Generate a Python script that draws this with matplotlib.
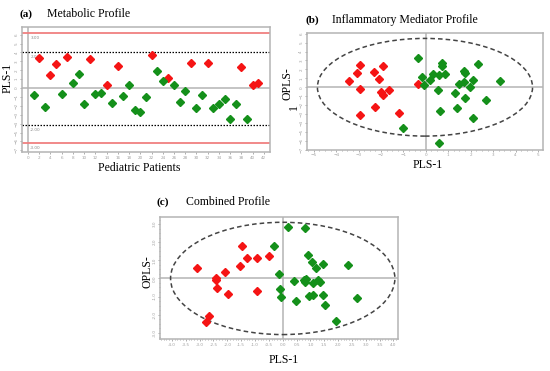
import matplotlib.pyplot as plt
from matplotlib.patches import Ellipse
from matplotlib.ticker import MultipleLocator, FormatStrFormatter

RED = '#f51414'
GREEN = '#14901a'
FRAME = '#b4b4b4'
TICKC = '#a0a0a0'
SERIF = ['Liberation Serif', 'DejaVu Serif']

# (a) Metabolic profile, PLS-1 score per pediatric patient
a_red_x = [2, 4, 5, 7, 11, 14, 16, 22, 25, 29, 32, 38, 40, 41]
a_red_y = [3.4, 1.5, 2.7, 3.5, 3.3, 0.34, 2.5, 3.67, 1.09, 2.77, 2.8, 2.32, 0.34, 0.56]
a_green_x = [1, 3, 6, 8, 9, 10, 12, 13, 15, 17, 18, 19, 20, 21, 23, 24, 26, 27, 28,
             30, 31, 33, 34, 35, 36, 37, 39]
a_green_y = [-0.79, -2.1, -0.64, 0.56, 1.57, -1.84, -0.67, -0.56, -1.72, -0.94, 0.3,
             -2.47, -2.73, -1.0, 1.87, 0.75, 0.3, -1.54, -0.34, -2.25, -0.79, -2.25,
             -1.8, -1.27, -3.48, -1.76, -3.48]
a_limits = [4.1, 6.15]          # 2.00 and 3.00 control limits
a_limit_labels = ['2.00', '3.00']

# (b) Inflammatory mediator profile, PLS-1 vs OPLS-1
b_red_x = [-3.41, -2.93, -3.07, -2.93, -2.93, -2.31, -2.11, -1.92, -2.01, -1.90,
           -1.64, -2.28, -1.22, -0.36]
b_red_y = [0.67, 2.46, 1.64, -0.19, -3.13, 1.75, 0.97, 2.43, -0.49, -0.90,
           -0.34, -2.16, -2.87, 0.34]
b_green_x = [-0.34, -0.19, -0.10, 0.18, 0.33, 0.57, 0.70, 0.70, 0.86, 0.54, 0.65,
             0.57, -1.0, 1.31, 1.38, 1.50, 1.70, 1.71, 1.76, 1.73, 1.99, 2.10, 2.10,
             2.31, 2.68, 3.30]
b_green_y = [3.25, 1.16, 0.26, 0.82, 1.46, 1.42, 2.69, 2.35, 1.46, -0.34, -2.69,
             -6.27, -4.55, -0.60, -2.31, 0.41, 0.63, 1.79, 1.65, -1.23, 0.04, 0.86,
             -3.43, 2.57, -1.46, 0.75]
b_ellipse = (9.6, 10.95)

# (c) Combined profile
c_red_x = [-3.11, -2.66, -2.76, -2.41, -2.41, -2.39, -2.08, -1.98, -1.55, -1.48,
           -1.29, -0.94, -0.94, -0.51]
c_red_y = [0.55, -2.06, -2.39, 0.02, -0.07, -0.53, 0.33, -0.88, 0.66, 1.77,
           1.12, 1.14, -0.70, 1.22]
c_green_x = [-0.31, -0.14, -0.11, -0.07, 0.19, 0.39, 0.49, 0.81, 0.76, 0.83, 0.80,
             0.90, 0.95, 1.05, 1.10, 1.10, 1.19, 1.27, 1.33, 1.46, 1.45, 1.54, 1.92,
             2.35, 2.67]
c_green_y = [1.79, 0.24, -0.57, -1.01, 2.82, -0.13, -1.25, 2.78, -0.09, -0.02, -0.18,
             1.31, -0.98, 0.92, -0.26, -0.92, 0.59, -0.06, -0.18, 0.81, -0.90, -1.45,
             -2.36, 0.72, -1.07]
c_ellipse = (8.1, 6.2)


def style_axes(ax):
    for s in ax.spines.values():
        s.set_color(FRAME)
        s.set_linewidth(1.1)
    ax.tick_params(which='both', colors=TICKC, labelsize=3, length=1.6, width=0.6, pad=1)
    ax.tick_params(which='minor', length=1.0)
    ax.tick_params(axis='y', labelrotation=90)
    for lab in ax.get_yticklabels():
        lab.set_va('center')


def points(ax, xr, yr, xg, yg):
    ax.plot(xr, yr, 'D', color=RED, ms=4.5, mec=RED, zorder=4)
    ax.plot(xg, yg, 'D', color=GREEN, ms=4.5, mec=GREEN, zorder=4)


fig = plt.figure(figsize=(5.5, 3.71), dpi=100)

# panel (a)
ax = fig.add_axes([0.04, 0.590, 0.451, 0.337])
ax.set_xlim(-1.07, 43.1)
ax.set_ylim(-7.2, 6.85)
ax.axhline(0, color=FRAME, lw=1.1, zorder=1)
ax.axvline(0, color=FRAME, lw=1.1, zorder=1)
for v, t in zip(a_limits, a_limit_labels):
    c = 'black' if v < 5 else '#f08080'
    ls = (0, (1.2, 1.2)) if v < 5 else '-'
    lw = 0.9 if v < 5 else 1.3
    ax.axhline(v, color=c, ls=ls, lw=lw, zorder=2)
    ax.axhline(-v, color=c, ls=ls, lw=lw, zorder=2)
    ax.text(0.4, v - 0.35, t, fontsize=3, color='#888888', va='top')
    ax.text(0.4, -v - 0.35, '-' + t, fontsize=3, color='#888888', va='top')
points(ax, a_red_x, a_red_y, a_green_x, a_green_y)
ax.xaxis.set_major_locator(MultipleLocator(2))
ax.yaxis.set_major_locator(MultipleLocator(1))
style_axes(ax)
fig.text(0.036, 0.962, '(a)', fontsize=8, fontweight='bold', family=SERIF, va='center')
fig.text(0.085, 0.962, 'Metabolic Profile', fontsize=8.5, family=SERIF, va='center')
fig.text(0.013, 0.79, 'PLS-1', fontsize=8.5, family=SERIF, rotation=90, ha='center', va='center')
fig.text(0.253, 0.547, 'Pediatric Patients', fontsize=8.5, family=SERIF, ha='center', va='center')

# panel (b)
ax = fig.add_axes([0.558, 0.596, 0.429, 0.315])
ax.set_xlim(-5.31, 5.22)
ax.set_ylim(-7.02, 6.08)
ax.axhline(0, color=FRAME, lw=1.1, zorder=1)
ax.axvline(0, color=FRAME, lw=1.1, zorder=1)
ax.add_patch(Ellipse((-0.04, 0), b_ellipse[0], b_ellipse[1], fill=False,
                     ec='#444444', lw=1.1, ls=(0, (3, 2)), zorder=3))
points(ax, b_red_x, b_red_y, b_green_x, b_green_y)
ax.xaxis.set_major_locator(MultipleLocator(1))
ax.xaxis.set_minor_locator(MultipleLocator(0.25))
ax.yaxis.set_major_locator(MultipleLocator(1))
style_axes(ax)
fig.text(0.556, 0.945, '(b)', fontsize=8, fontweight='bold', family=SERIF, va='center')
fig.text(0.604, 0.945, 'Inflammatory Mediator Profile', fontsize=8.5, family=SERIF, va='center')
fig.text(0.522, 0.775, 'OPLS-', fontsize=8.5, family=SERIF, rotation=90, ha='center', va='center')
fig.text(0.535, 0.712, '1', fontsize=8.5, family=SERIF, rotation=90, ha='center', va='center')
fig.text(0.778, 0.555, 'PLS-1', fontsize=8.5, family=SERIF, ha='center', va='center')

# panel (c)
ax = fig.add_axes([0.291, 0.086, 0.433, 0.329])
ax.set_xlim(-4.43, 4.17)
ax.set_ylim(-3.35, 3.39)
ax.axhline(0, color=FRAME, lw=1.1, zorder=1)
ax.axvline(0, color=FRAME, lw=1.1, zorder=1)
ax.add_patch(Ellipse((0, 0), c_ellipse[0], c_ellipse[1], fill=False,
                     ec='#444444', lw=1.1, ls=(0, (3, 2)), zorder=3))
points(ax, c_red_x, c_red_y, c_green_x, c_green_y)
ax.xaxis.set_major_locator(MultipleLocator(0.5))
ax.xaxis.set_minor_locator(MultipleLocator(0.1))
ax.yaxis.set_major_locator(MultipleLocator(1))
ax.yaxis.set_minor_locator(MultipleLocator(0.25))
ax.xaxis.set_major_formatter(FormatStrFormatter('%.1f'))
ax.yaxis.set_major_formatter(FormatStrFormatter('%.1f'))
style_axes(ax)
fig.text(0.284, 0.455, '(c)', fontsize=8, fontweight='bold', family=SERIF, va='center')
fig.text(0.338, 0.455, 'Combined Profile', fontsize=8.5, family=SERIF, va='center')
fig.text(0.268, 0.267, 'OPLS-', fontsize=8.5, family=SERIF, rotation=90, ha='center', va='center')
fig.text(0.516, 0.03, 'PLS-1', fontsize=8.5, family=SERIF, ha='center', va='center')

plt.savefig('out.png', dpi=100)
plt.close(fig)
